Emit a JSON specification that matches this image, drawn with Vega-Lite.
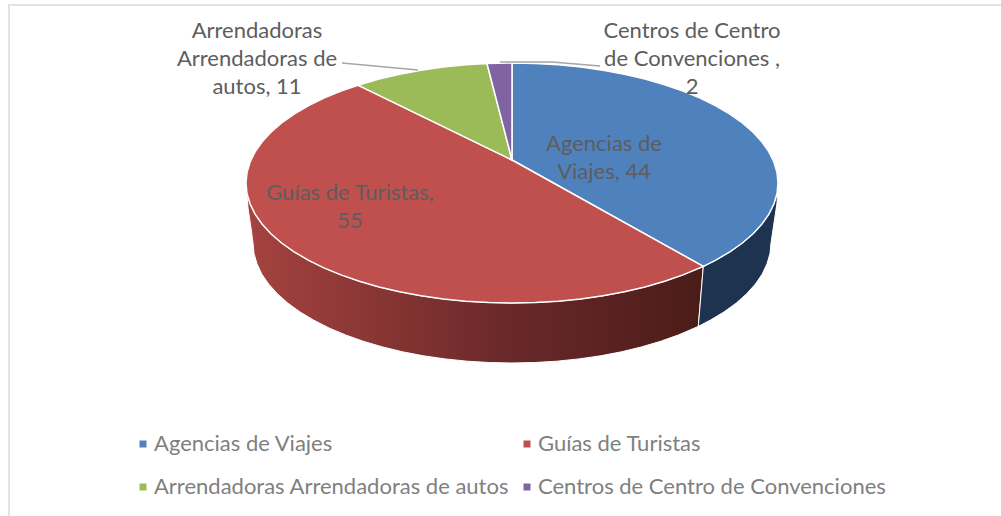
{
"$schema":"https://vega.github.io/schema/vega-lite/v6.json",
"width":1001,"height":516,"padding":0,"autosize":{"type":"none"},
"background":"white",
"view":{"stroke":null},
"projection":{"type":"identity","reflectY":true,"scale":1,"translate":[512,183]},
"datasets":{
"frame":[{"geometry":{"type":"LineString","coordinates":[[-503,-333],[-503,178],[489,178]]}}],
"leaders":[
{"slice":"Arrendadoras Arrendadoras de autos","geometry":{"type":"LineString","coordinates":[[-170,120],[-94,113]]}},
{"slice":"Centros de Centro de Convenciones","geometry":{"type":"LineString","coordinates":[[-12,121],[40,121],[88,117]]}}
],
"walls":[
{"slice":"Guías de Turistas","geometry":{"type":"Polygon","coordinates":[[[191.3,-83.4],[171,-91.9],[152.6,-98.3],[133,-103.9],[112.4,-108.8],[91,-112.8],[68.8,-115.9],[46.2,-118.2],[23.2,-119.5],[0,-120],[-23.2,-119.5],[-46.2,-118.2],[-68.8,-115.9],[-91,-112.8],[-112.4,-108.8],[-133,-103.9],[-152.6,-98.3],[-171,-91.9],[-188.1,-84.9],[-203.8,-77.1],[-217.9,-68.8],[-230.4,-60],[-241.1,-50.7],[-250,-41],[-256.9,-31.1],[-262,-20.8],[-265,-10.5],[-266,0],[-264,-25],[-261,-45],[-259,-60],[-258,-70.5],[-255,-80.8],[-250.2,-91.1],[-243.4,-101],[-234.7,-110.7],[-224.3,-120],[-212.2,-128.8],[-198.4,-137.1],[-183.1,-144.9],[-166.5,-151.9],[-148.6,-158.3],[-129.5,-163.9],[-109.5,-168.8],[-88.6,-172.8],[-67,-175.9],[-45,-178.2],[-22.6,-179.5],[0,-180],[22.6,-179.5],[45,-178.2],[67,-175.9],[88.6,-172.8],[109.5,-168.8],[129.5,-163.9],[148.6,-158.3],[166.5,-151.9],[186.3,-143.4],[191.3,-83.4]]]}},
{"slice":"Agencias de Viajes","geometry":{"type":"Polygon","coordinates":[[[266,0],[265,-10.5],[262,-20.8],[256.9,-31.1],[250,-41],[241.1,-50.7],[230.4,-60],[217.9,-68.8],[203.8,-77.1],[191.3,-83.4],[186.3,-143.4],[198.4,-137.1],[212.2,-128.8],[224.3,-120],[234.7,-110.7],[243.4,-101],[250.2,-91.1],[255,-80.8],[258,-70.5],[259,-60],[262,-40],[265,-20],[266,0]]]}}
],
"faces":[
{"slice":"Agencias de Viajes","value":44,"geometry":{"type":"Polygon","coordinates":[[[0,23],[0,120],[23.2,119.5],[46.2,118.2],[68.8,115.9],[91,112.8],[112.4,108.8],[133,103.9],[152.6,98.3],[171,91.9],[188.1,84.9],[203.8,77.1],[217.9,68.8],[230.4,60],[241.1,50.7],[250,41],[256.9,31.1],[262,20.8],[265,10.5],[266,0],[265,-10.5],[262,-20.8],[256.9,-31.1],[250,-41],[241.1,-50.7],[230.4,-60],[217.9,-68.8],[203.8,-77.1],[191.3,-83.4],[0,23]]]}},
{"slice":"Guías de Turistas","value":55,"geometry":{"type":"Polygon","coordinates":[[[0,23],[191.3,-83.4],[171,-91.9],[152.6,-98.3],[133,-103.9],[112.4,-108.8],[91,-112.8],[68.8,-115.9],[46.2,-118.2],[23.2,-119.5],[0,-120],[-23.2,-119.5],[-46.2,-118.2],[-68.8,-115.9],[-91,-112.8],[-112.4,-108.8],[-133,-103.9],[-152.6,-98.3],[-171,-91.9],[-188.1,-84.9],[-203.8,-77.1],[-217.9,-68.8],[-230.4,-60],[-241.1,-50.7],[-250,-41],[-256.9,-31.1],[-262,-20.8],[-265,-10.5],[-266,0],[-265,10.5],[-262,20.8],[-256.9,31.1],[-250,41],[-241.1,50.7],[-230.4,60],[-217.9,68.8],[-203.8,77.1],[-188.1,84.9],[-171,91.9],[-154,97.8],[0,23]]]}},
{"slice":"Arrendadoras Arrendadoras de autos","value":11,"geometry":{"type":"Polygon","coordinates":[[[0,23],[-154,97.8],[-133,103.9],[-112.4,108.8],[-91,112.8],[-68.8,115.9],[-46.2,118.2],[-25,119.5],[0,23]]]}},
{"slice":"Centros de Centro de Convenciones","value":2,"geometry":{"type":"Polygon","coordinates":[[[0,23],[-25,119.5],[0,120],[0,23]]]}}
],
"labels":[
{"slice":"Agencias de Viajes","lon":92,"lat":49,"text":["Agencias de","Viajes, 44"]},
{"slice":"Guías de Turistas","lon":-162,"lat":0,"text":["Guías de Turistas,","55"]},
{"slice":"Arrendadoras Arrendadoras de autos","lon":-255,"lat":162,"text":["Arrendadoras","Arrendadoras de","autos, 11"]},
{"slice":"Centros de Centro de Convenciones","lon":180,"lat":162,"text":["Centros de Centro","de Convenciones ,","2"]}
]
},
"layer":[
{"data":{"name":"frame"},"mark":{"type":"geoshape","filled":false,"stroke":"#e3e3e3","strokeWidth":2,"opacity":1},"encoding":{"shape":{"field":"geometry","type":"geojson"}}},
{"data":{"name":"walls"},"transform":[{"filter":"datum.slice==='Guías de Turistas'"}],"mark":{"type":"geoshape","opacity":1,"stroke":"white","strokeWidth":1,"fill":{"gradient":"linear","x1":0,"x2":1,"y1":0,"y2":0,"stops":[{"offset":0,"color":"#a5433f"},{"offset":0.58,"color":"#6a2829"},{"offset":1,"color":"#4a1c18"}]}},"encoding":{"shape":{"field":"geometry","type":"geojson"}}},
{"data":{"name":"walls"},"transform":[{"filter":"datum.slice==='Agencias de Viajes'"}],"mark":{"type":"geoshape","opacity":1,"stroke":"white","strokeWidth":1,"fill":"#1d334f"},"encoding":{"shape":{"field":"geometry","type":"geojson"}}},
{"data":{"name":"faces"},"mark":{"type":"geoshape","opacity":1,"stroke":"white","strokeWidth":1.5},"encoding":{"shape":{"field":"geometry","type":"geojson"},"color":{"field":"slice","type":"nominal","title":null,
"scale":{"domain":["Agencias de Viajes","Arrendadoras Arrendadoras de autos","Guías de Turistas","Centros de Centro de Convenciones"],"range":["#4f81bd","#9bbb59","#c0504d","#8064a2"]},
"sort":null,
"legend":{"orient":"none","legendX":132,"legendY":433,"columns":2,"symbolType":"square","symbolSize":49,"symbolStrokeWidth":0,"labelFont":"Lato","labelFontSize":22,"labelColor":"#7f7f7f","labelOffset":0,"rowPadding":21,"columnPadding":6,"labelLimit":500,"labelExpr":"datum.label==='Agencias de Viajes'?'\u2005'+datum.label:datum.label","encode":{"labels":{"update":{"text":{"signal":"datum.label==='Agencias de Viajes'?'\u2005'+datum.label:datum.label"}}}}}}}},
{"data":{"name":"leaders"},"mark":{"type":"geoshape","filled":false,"stroke":"#a6a6a6","strokeWidth":1.5,"opacity":1},"encoding":{"shape":{"field":"geometry","type":"geojson"}}},
{"data":{"name":"labels"},"mark":{"type":"text","font":"Lato","fontSize":22,"lineHeight":28,"color":"#5d5d5d","align":"center","baseline":"top"},"encoding":{"longitude":{"field":"lon","type":"quantitative"},"latitude":{"field":"lat","type":"quantitative"},"text":{"field":"text"}}}
]
}
